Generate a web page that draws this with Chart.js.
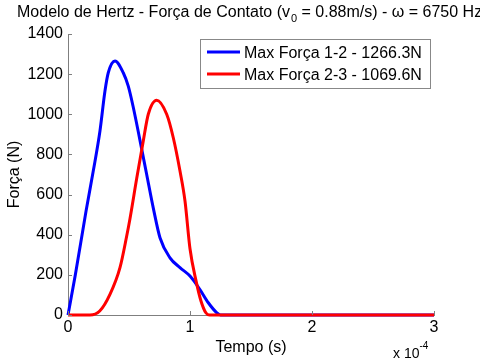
<!DOCTYPE html>
<html>
<head>
<meta charset="utf-8">
<script src="https://cdn.jsdelivr.net/npm/chart.js@4/dist/chart.umd.min.js"></script>
<style>
  html, body { margin: 0; padding: 0; background: #fff; }
  #wrap { width: 480px; height: 360px; }
</style>
</head>
<body>
<div id="wrap"><canvas id="chartForca" width="480" height="360"></canvas></div>
<script>
// tempo em unidades de 1e-4 s
const tempo12 = [0, 0.06, 0.148, 0.207, 0.262, 0.303, 0.33, 0.385, 0.453, 0.494, 0.535, 0.59, 0.645, 0.70, 0.754, 0.836, 0.918, 1.00, 1.08, 1.15, 1.22, 1.25, 3.0];
const forca12 = [0, 200, 518, 717, 917, 1116, 1207, 1266, 1207, 1140, 1035, 870, 700, 530, 385, 285, 236, 194, 128, 61, 11, 0, 0];

const tempo23 = [0, 0.18, 0.26, 0.344, 0.426, 0.48, 0.508, 0.563, 0.617, 0.658, 0.727, 0.809, 0.863, 0.918, 0.959, 1.00, 1.05, 1.09, 1.13, 1.16, 3.0];
const forca23 = [0, 0, 20, 103, 236, 390, 480, 680, 867, 1000, 1070, 1000, 883, 717, 568, 330, 169, 70, 11, 0, 0];

const xTicks = [0, 1, 2, 3];
const yTicks = [0, 200, 400, 600, 800, 1000, 1200, 1400];

const titulo = "Modelo de Hertz - Força de Contato (v";
const tituloSub = "0";
const tituloResto = " = 0.88m/s) - ω = 6750 Hz";
const rotulos = ["Max Força 1-2 - 1266.3N", "Max Força 2-3 - 1069.6N"];

const fonte = "'Liberation Sans', Arial, sans-serif";
const corEixo = "#7f7f7f";

const pontos = (xs, ys) => xs.map((x, i) => ({ x, y: ys[i] }));

// titulo, ticks internos, legenda e fator de escala
const extras = {
  id: "extras",
  afterDraw(chart) {
    const ctx = chart.ctx;
    const xs = chart.scales.x, ys = chart.scales.y;
    ctx.save();

    // ticks para dentro
    ctx.strokeStyle = corEixo;
    ctx.lineWidth = 1;
    ctx.beginPath();
    xTicks.forEach(v => {
      const px = Math.round(xs.getPixelForValue(v)) + 0.5;
      ctx.moveTo(px, ys.bottom); ctx.lineTo(px, ys.bottom - 4);
    });
    yTicks.forEach(v => {
      const py = Math.round(ys.getPixelForValue(v)) + 0.5;
      ctx.moveTo(xs.left, py); ctx.lineTo(xs.left + 4, py);
    });
    ctx.stroke();

    // titulo
    ctx.fillStyle = "#000";
    ctx.textBaseline = "alphabetic";
    ctx.textAlign = "left";
    ctx.font = "16px " + fonte;
    let x = 17;
    ctx.fillText(titulo, x, 17);
    x += ctx.measureText(titulo).width;
    ctx.font = "11px " + fonte;
    ctx.fillText(tituloSub, x + 1, 22);
    x += ctx.measureText(tituloSub).width + 1;
    ctx.font = "16px " + fonte;
    ctx.fillText(tituloResto, x, 17);

    // fator x 10^-4
    ctx.font = "14px " + fonte;
    ctx.fillText("x 10", 393, 358);
    const w = ctx.measureText("x 10").width;
    ctx.font = "10px " + fonte;
    ctx.fillText("-4", 393 + w, 349);

    // legenda
    const lx = 200, ly = 39, lw = 230, lh = 49;
    ctx.fillStyle = "#fff";
    ctx.fillRect(lx, ly, lw, lh);
    ctx.strokeStyle = "#888";
    ctx.lineWidth = 1;
    ctx.strokeRect(lx + 0.5, ly + 0.5, lw, lh);
    ctx.font = "16px " + fonte;
    ctx.textBaseline = "middle";
    chart.data.datasets.forEach((ds, i) => {
      const yy = 52 + i * 22;
      ctx.strokeStyle = ds.borderColor;
      ctx.lineWidth = 3;
      ctx.beginPath();
      ctx.moveTo(207, yy); ctx.lineTo(240, yy);
      ctx.stroke();
      ctx.fillStyle = "#000";
      ctx.fillText(ds.label, 244, yy + 2);
    });
    ctx.restore();
  }
};

const ctx = document.getElementById("chartForca").getContext("2d");
new Chart(ctx, {
  type: "line",
  data: {
    datasets: [
      {
        label: rotulos[0],
        data: pontos(tempo12, forca12),
        borderColor: "#0000ff",
        borderWidth: 3,
        pointRadius: 0,
        tension: 0.35,
        cubicInterpolationMode: "monotone",
        clip: 6,
        order: 1
      },
      {
        label: rotulos[1],
        data: pontos(tempo23, forca23),
        borderColor: "#ff0000",
        borderWidth: 3,
        pointRadius: 0,
        tension: 0.35,
        cubicInterpolationMode: "monotone",
        clip: 6,
        order: 0
      }
    ]
  },
  options: {
    responsive: false,
    animation: false,
    devicePixelRatio: 1,
    layout: { padding: { top: 34, right: 46, left: 0, bottom: 0 } },
    scales: {
      x: {
        type: "linear",
        min: 0,
        max: 3,
        afterBuildTicks: s => { s.ticks = xTicks.map(v => ({ value: v })); },
        afterFit: s => { s.height = 45; },
        grid: { drawOnChartArea: false, drawTicks: false },
        border: { color: corEixo },
        ticks: { color: "#000", padding: 3, font: { family: fonte, size: 16 }, callback: v => String(v) },
        title: {
          display: true,
          text: "Tempo (s)",
          color: "#000",
          padding: { top: 0, bottom: 3 },
          font: { family: fonte, size: 16 }
        }
      },
      y: {
        min: 0,
        max: 1400,
        afterBuildTicks: s => { s.ticks = yTicks.map(v => ({ value: v })); },
        afterFit: s => { s.width = 68; },
        grid: { drawOnChartArea: false, drawTicks: false },
        border: { color: corEixo },
        ticks: { color: "#000", padding: 5, font: { family: fonte, size: 16 }, callback: v => String(v) },
        title: {
          display: true,
          text: "Força (N)",
          color: "#000",
          padding: { top: 5, bottom: 0 },
          font: { family: fonte, size: 16 }
        }
      }
    },
    plugins: {
      legend: { display: false },
      tooltip: { enabled: false },
      title: { display: false }
    }
  },
  plugins: [extras]
});
</script>
</body>
</html>
